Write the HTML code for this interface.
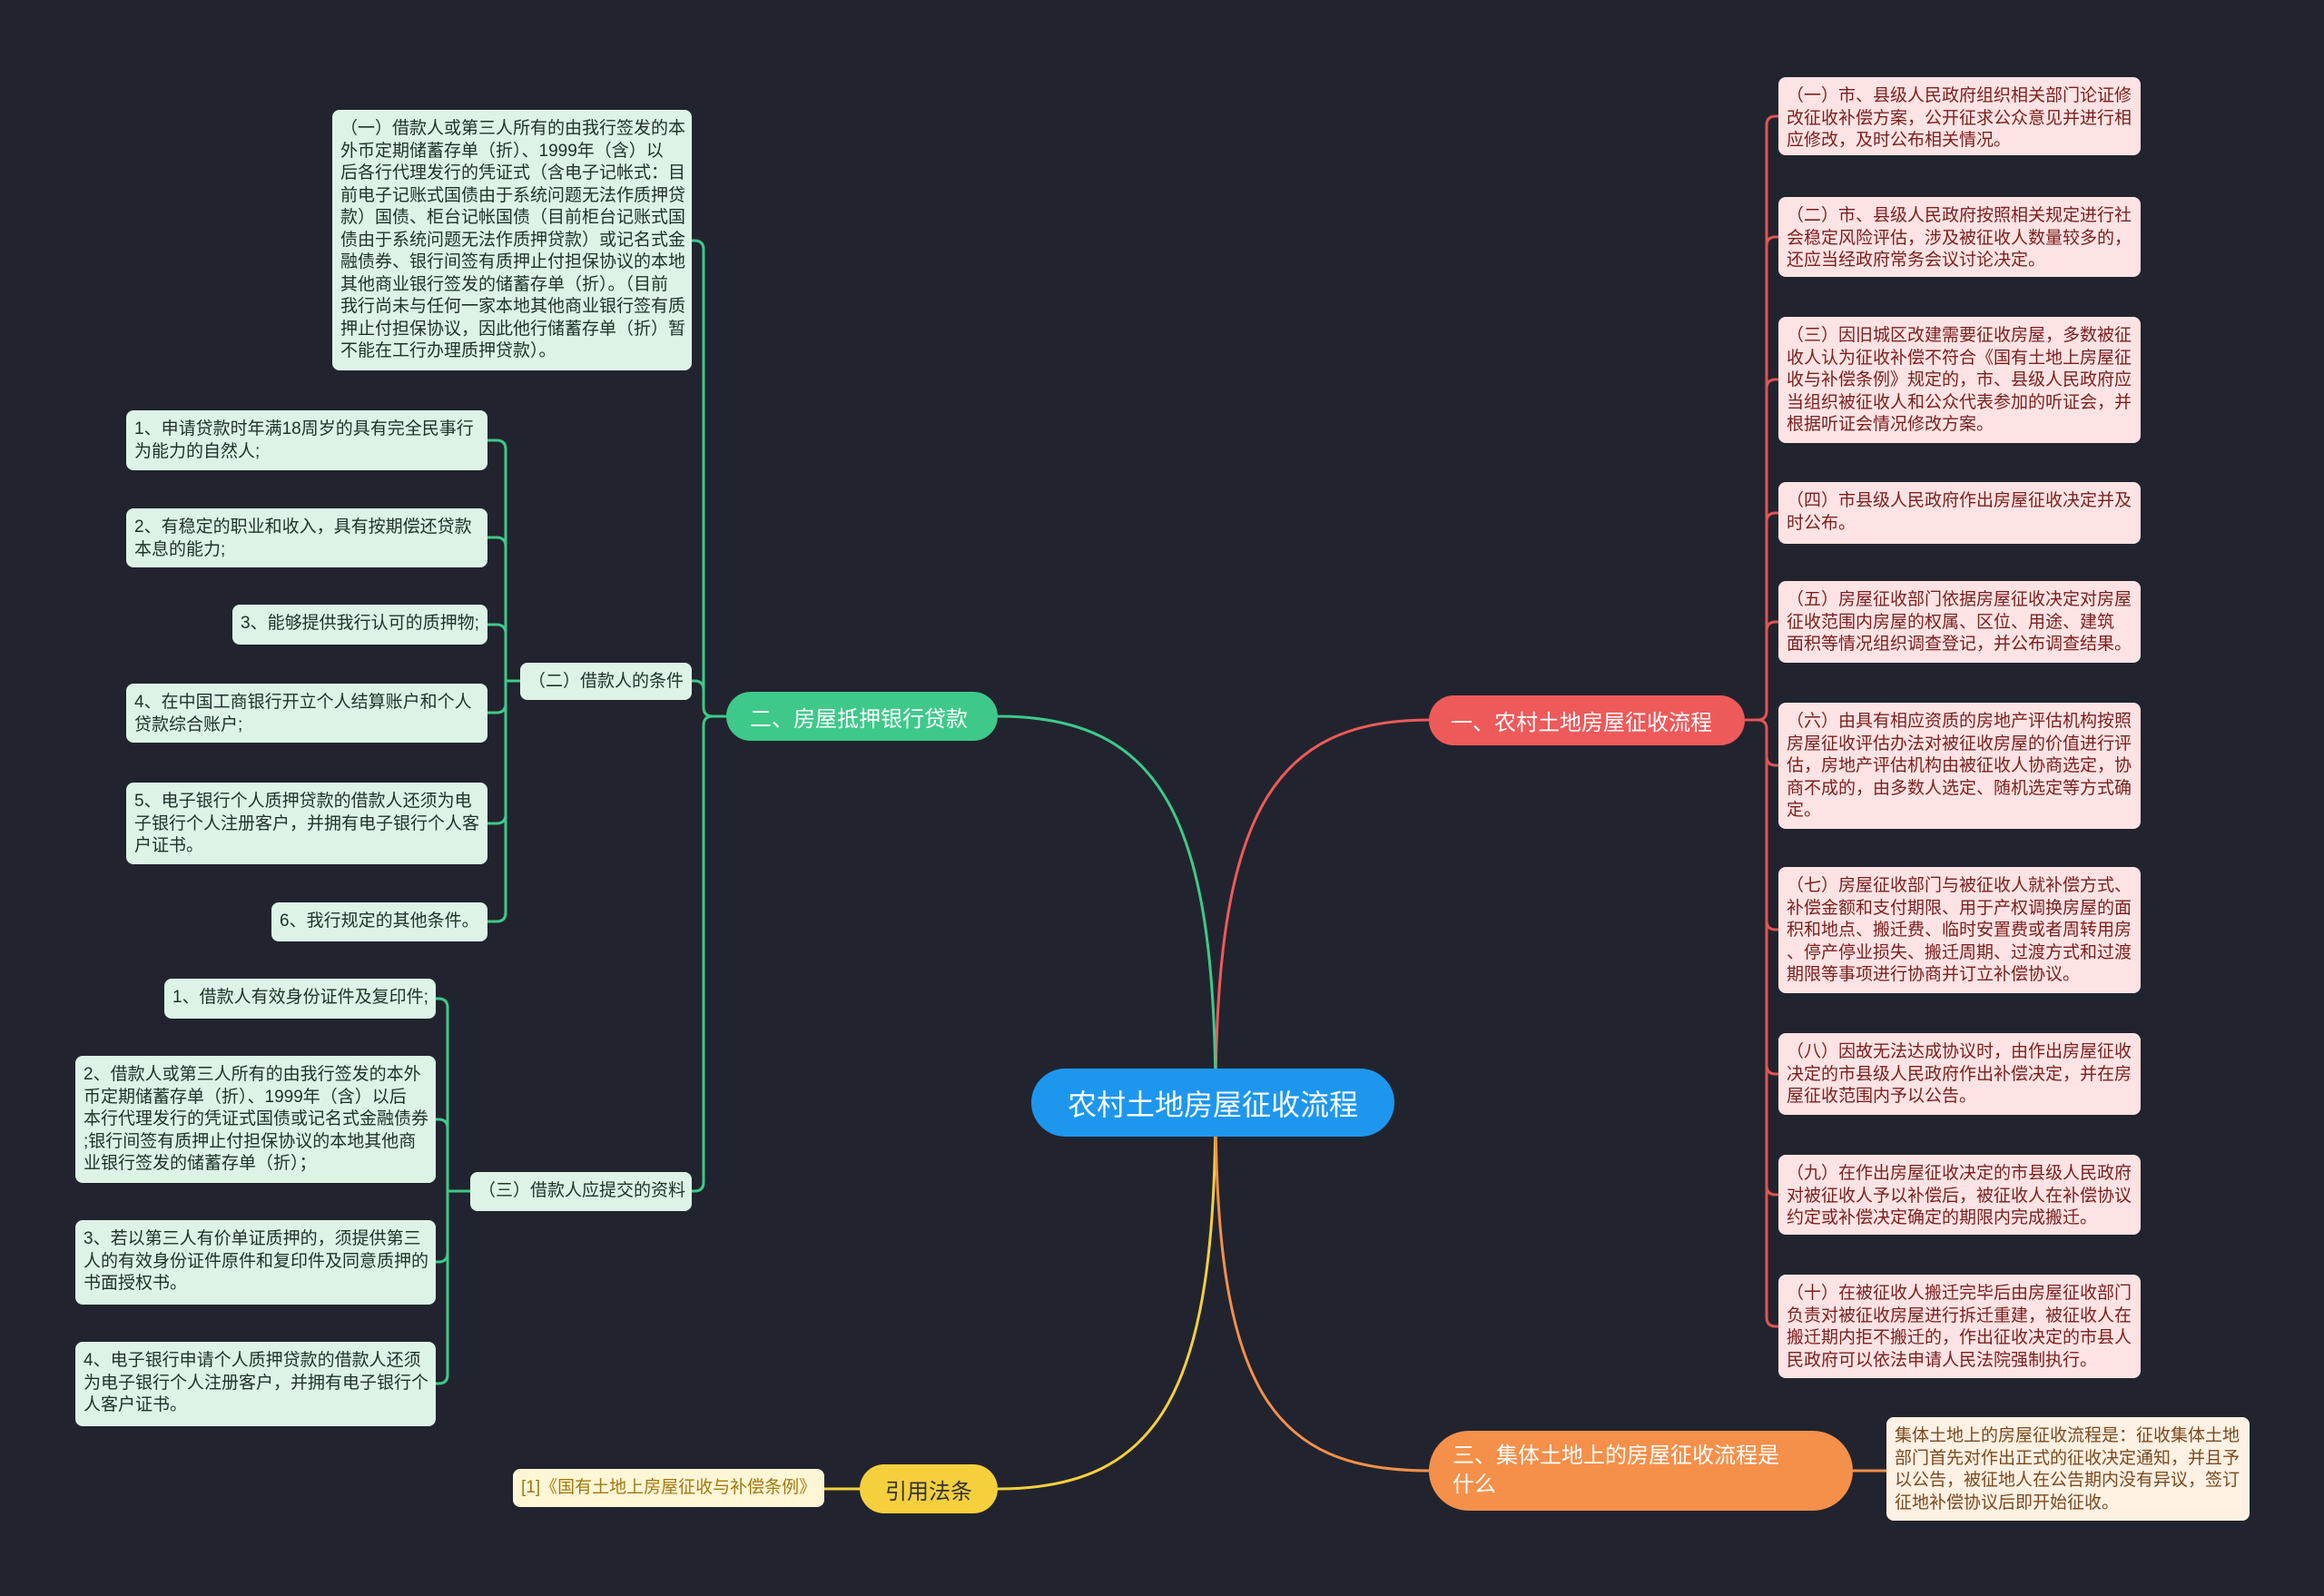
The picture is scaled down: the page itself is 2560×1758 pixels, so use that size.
<!DOCTYPE html>
<html><head><meta charset="utf-8">
<style>
body{margin:0;width:2560px;height:1758px;background:#21242e;position:relative;overflow:hidden;font-family:"Liberation Sans","Noto Sans CJK SC",sans-serif;}
.b{position:absolute;box-sizing:border-box;font-size:19px;line-height:24.5px;border-radius:8px;padding:9px 9px 6px;white-space:nowrap;}
.p{background:#fde3e3;color:#7a1f1f;}
.g{background:#dcf3e6;color:#1f3328;}
.o{background:#fff1e3;color:#7a4a1f;}
.y{background:#fff6d6;color:#a07a10;}
.m{position:absolute;box-sizing:border-box;border-radius:30px;color:#fff;font-size:24px;display:flex;align-items:center;padding:0 26px;white-space:nowrap;}
svg{position:absolute;left:0;top:0;}
</style></head><body>
<svg width="2560" height="1758" fill="none" stroke-width="3">
<path d="M1339 1215 C1339 900 1400 793 1574 793" stroke="#ee5a5a"/>
<path d="M1339 1215 C1339 900 1280 789 1099 789" stroke="#3ec98a"/>
<path d="M1339 1215 C1339 1530 1280 1640 1099 1640" stroke="#f5d03c"/>
<path d="M1339 1215 C1339 1530 1400 1620 1574 1620" stroke="#f5904a"/>
<g stroke="#e05555">
<path d="M1922 793 H1936 Q1946 793 1946 783 V138 Q1946 128 1956 128 H1960"/>
<path d="M1946 271 Q1946 261 1956 261 H1960"/>
<path d="M1946 428 Q1946 418 1956 418 H1960"/>
<path d="M1946 575 Q1946 565 1956 565 H1960"/>
<path d="M1946 695 Q1946 685 1956 685 H1960"/>
<path d="M1936 793 Q1946 793 1946 803 V1451 Q1946 1461 1956 1461 H1960"/>
<path d="M1946 833 Q1946 843 1956 843 H1960"/>
<path d="M1946 1014 Q1946 1024 1956 1024 H1960"/>
<path d="M1946 1173 Q1946 1183 1956 1183 H1960"/>
<path d="M1946 1306 Q1946 1316 1956 1316 H1960"/>
</g>
<g stroke="#3ec98a">
<path d="M800 789 H785 Q775 789 775 779 V275 Q775 265 765 265 H761"/>
<path d="M775 760 Q775 750 765 750 H761"/>
<path d="M785 789 Q775 789 775 799 V1302 Q775 1312 765 1312 H761"/>
<path d="M573 750 H557 M557 750 V495 Q557 485 547 485 H537"/>
<path d="M557 602 Q557 592 547 592 H537"/>
<path d="M557 698 Q557 688 547 688 H537"/>
<path d="M557 750 V1005 Q557 1015 547 1015 H537"/>
<path d="M557 775 Q557 785 547 785 H537"/>
<path d="M557 897 Q557 907 547 907 H537"/>
<path d="M518 1312 H493 M493 1312 V1110 Q493 1100 483 1100 H480"/>
<path d="M493 1243 Q493 1233 483 1233 H480"/>
<path d="M493 1312 V1514 Q493 1524 483 1524 H480"/>
<path d="M493 1380 Q493 1390 483 1390 H480"/>
</g>
<path d="M947 1640 H908" stroke="#f5d03c"/>
<path d="M2041 1620 H2078" stroke="#f5904a"/>
</svg>

<div class="m" style="left:1136px;top:1177px;width:400px;height:75px;background:#1d97ee;font-size:32px;border-radius:38px;justify-content:center;">农村土地房屋征收流程</div>
<div class="m" style="left:1574px;top:766px;width:348px;height:55px;background:#ee5a5a;padding:0 24px;">一、农村土地房屋征收流程</div>
<div class="m" style="left:1574px;top:1576px;width:467px;height:88px;background:#f5904a;line-height:32px;border-radius:44px;">三、集体土地上的房屋征收流程是<br>什么</div>
<div class="m" style="left:800px;top:762px;width:299px;height:54px;background:#3ec98a;padding:0 26px;">二、房屋抵押银行贷款</div>
<div class="m" style="left:947px;top:1613px;width:152px;height:54px;background:#f5d03c;color:#333;justify-content:center;padding:0;">引用法条</div>

<div class="b p" style="left:1959px;top:85px;width:399px;height:86px;">（一）市、县级人民政府组织相关部门论证修<br>改征收补偿方案，公开征求公众意见并进行相<br>应修改，及时公布相关情况。</div>
<div class="b p" style="left:1959px;top:217px;width:399px;height:88px;">（二）市、县级人民政府按照相关规定进行社<br>会稳定风险评估，涉及被征收人数量较多的，<br>还应当经政府常务会议讨论决定。</div>
<div class="b p" style="left:1959px;top:349px;width:399px;height:139px;">（三）因旧城区改建需要征收房屋，多数被征<br>收人认为征收补偿不符合《国有土地上房屋征<br>收与补偿条例》规定的，市、县级人民政府应<br>当组织被征收人和公众代表参加的听证会，并<br>根据听证会情况修改方案。</div>
<div class="b p" style="left:1959px;top:531px;width:399px;height:68px;">（四）市县级人民政府作出房屋征收决定并及<br>时公布。</div>
<div class="b p" style="left:1959px;top:640px;width:399px;height:90px;">（五）房屋征收部门依据房屋征收决定对房屋<br>征收范围内房屋的权属、区位、用途、建筑<br>面积等情况组织调查登记，并公布调查结果。</div>
<div class="b p" style="left:1959px;top:774px;width:399px;height:139px;">（六）由具有相应资质的房地产评估机构按照<br>房屋征收评估办法对被征收房屋的价值进行评<br>估，房地产评估机构由被征收人协商选定，协<br>商不成的，由多数人选定、随机选定等方式确<br>定。</div>
<div class="b p" style="left:1959px;top:955px;width:399px;height:139px;">（七）房屋征收部门与被征收人就补偿方式、<br>补偿金额和支付期限、用于产权调换房屋的面<br>积和地点、搬迁费、临时安置费或者周转用房<br>、停产停业损失、搬迁周期、过渡方式和过渡<br>期限等事项进行协商并订立补偿协议。</div>
<div class="b p" style="left:1959px;top:1138px;width:399px;height:90px;">（八）因故无法达成协议时，由作出房屋征收<br>决定的市县级人民政府作出补偿决定，并在房<br>屋征收范围内予以公告。</div>
<div class="b p" style="left:1959px;top:1272px;width:399px;height:88px;">（九）在作出房屋征收决定的市县级人民政府<br>对被征收人予以补偿后，被征收人在补偿协议<br>约定或补偿决定确定的期限内完成搬迁。</div>
<div class="b p" style="left:1959px;top:1404px;width:399px;height:114px;">（十）在被征收人搬迁完毕后由房屋征收部门<br>负责对被征收房屋进行拆迁重建，被征收人在<br>搬迁期内拒不搬迁的，作出征收决定的市县人<br>民政府可以依法申请人民法院强制执行。</div>
<div class="b o" style="left:2078px;top:1561px;width:400px;height:114px;">集体土地上的房屋征收流程是：征收集体土地<br>部门首先对作出正式的征收决定通知，并且予<br>以公告，被征地人在公告期内没有异议，签订<br>征地补偿协议后即开始征收。</div>

<div class="b g" style="left:366px;top:121px;width:396px;height:287px;">（一）借款人或第三人所有的由我行签发的本<br>外币定期储蓄存单（折）、1999年（含）以<br>后各行代理发行的凭证式（含电子记帐式：目<br>前电子记账式国债由于系统问题无法作质押贷<br>款）国债、柜台记帐国债（目前柜台记账式国<br>债由于系统问题无法作质押贷款）或记名式金<br>融债券、银行间签有质押止付担保协议的本地<br>其他商业银行签发的储蓄存单（折）。（目前<br>我行尚未与任何一家本地其他商业银行签有质<br>押止付担保协议，因此他行储蓄存单（折）暂<br>不能在工行办理质押贷款）。</div>
<div class="b g" style="left:573px;top:730px;width:189px;height:41px;">（二）借款人的条件</div>
<div class="b g" style="left:139px;top:452px;width:398px;height:66px;">1、申请贷款时年满18周岁的具有完全民事行<br>为能力的自然人;</div>
<div class="b g" style="left:139px;top:560px;width:398px;height:65px;">2、有稳定的职业和收入，具有按期偿还贷款<br>本息的能力;</div>
<div class="b g" style="left:256px;top:666px;width:281px;height:44px;">3、能够提供我行认可的质押物;</div>
<div class="b g" style="left:139px;top:753px;width:398px;height:65px;">4、在中国工商银行开立个人结算账户和个人<br>贷款综合账户;</div>
<div class="b g" style="left:139px;top:862px;width:398px;height:90px;">5、电子银行个人质押贷款的借款人还须为电<br>子银行个人注册客户，并拥有电子银行个人客<br>户证书。</div>
<div class="b g" style="left:299px;top:994px;width:238px;height:43px;">6、我行规定的其他条件。</div>
<div class="b g" style="left:518px;top:1291px;width:244px;height:43px;">（三）借款人应提交的资料</div>
<div class="b g" style="left:181px;top:1078px;width:299px;height:44px;">1、借款人有效身份证件及复印件;</div>
<div class="b g" style="left:83px;top:1163px;width:397px;height:140px;">2、借款人或第三人所有的由我行签发的本外<br>币定期储蓄存单（折）、1999年（含）以后<br>本行代理发行的凭证式国债或记名式金融债券<br>;银行间签有质押止付担保协议的本地其他商<br>业银行签发的储蓄存单（折）；</div>
<div class="b g" style="left:83px;top:1344px;width:397px;height:93px;">3、若以第三人有价单证质押的，须提供第三<br>人的有效身份证件原件和复印件及同意质押的<br>书面授权书。</div>
<div class="b g" style="left:83px;top:1478px;width:397px;height:93px;">4、电子银行申请个人质押贷款的借款人还须<br>为电子银行个人注册客户，并拥有电子银行个<br>人客户证书。</div>
<div class="b y" style="left:565px;top:1618px;width:343px;height:42px;">[1]《国有土地上房屋征收与补偿条例》</div>
</body></html>
